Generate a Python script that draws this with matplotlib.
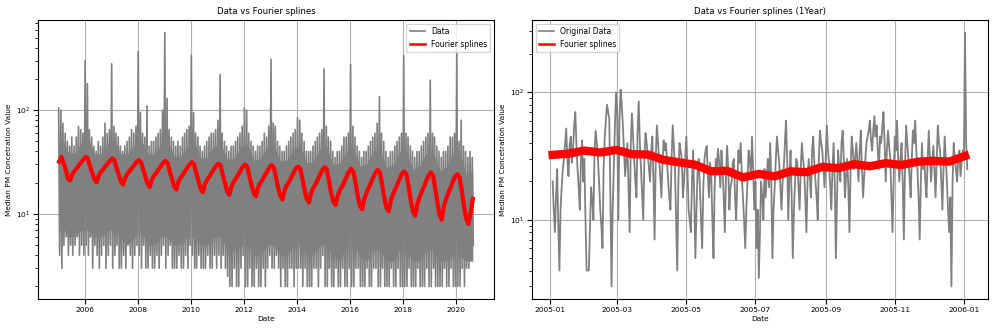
import numpy as np
import pandas as pd
import matplotlib
matplotlib.use('Agg')
import matplotlib.pyplot as plt

# ---- full record, read per month (high / low of the daily series) ----
monthly_high = [
    105, 100, 75, 60, 50, 45, 55, 45, 55, 70, 65, 60,
    300, 180, 65, 55, 45, 40, 50, 45, 55, 75, 60, 65,
    280, 70, 60, 55, 45, 40, 45, 50, 55, 65, 60, 70,
    370, 95, 60, 55, 110, 45, 50, 50, 55, 60, 65, 100,
    560, 130, 65, 55, 50, 45, 50, 45, 55, 60, 65, 70,
    340, 95, 60, 55, 45, 40, 45, 50, 55, 60, 60, 65,
    80, 220, 60, 50, 45, 40, 45, 45, 50, 55, 60, 70,
    105, 100, 60, 50, 45, 40, 45, 45, 50, 60, 55, 70,
    310, 75, 70, 50, 45, 40, 40, 45, 50, 55, 60, 65,
    85, 80, 60, 50, 40, 40, 40, 45, 50, 55, 60, 65,
    250, 70, 55, 50, 40, 35, 40, 40, 45, 55, 55, 60,
    275, 70, 55, 45, 40, 35, 40, 40, 45, 50, 55, 60,
    75, 135, 60, 50, 40, 35, 40, 40, 45, 50, 55, 60,
    335, 60, 55, 45, 40, 35, 40, 40, 45, 50, 55, 60,
    195, 60, 55, 45, 40, 35, 40, 40, 45, 55, 55, 60,
    380, 50, 80, 45, 40, 35, 40, 35,
]
monthly_low = [
    4, 3, 5, 6, 4, 5, 4, 5, 6, 4, 5, 4,
    5, 4, 6, 3, 5, 4, 3, 4, 5, 3, 4, 5,
    3, 4, 5, 3, 3, 4, 3, 5, 4, 3, 4, 5,
    4, 3, 5, 3, 3, 4, 3, 3, 4, 3, 4, 5,
    3, 4, 5, 3, 3, 3, 4, 3, 3, 4, 3, 5,
    4, 3, 3, 4, 3, 3, 3, 4, 3, 3, 4, 3,
    4, 3, 4, 3, 2.5, 2, 2, 3, 2, 2, 3, 4,
    2, 2, 3, 2, 2, 3, 2, 2, 3, 2, 3, 4,
    3, 3, 4, 3, 2, 3, 2, 2, 3, 3, 2, 3,
    3, 3, 2, 3, 2, 2, 2, 3, 3, 2, 3, 4,
    2, 2, 3, 2, 2, 3, 2, 2, 3, 2, 2, 3,
    2, 2, 3, 3, 2, 2, 2, 3, 2, 2, 3, 3,
    2, 2, 3, 2, 2, 2, 3, 2, 2, 3, 2, 2,
    2, 2, 3, 2, 2, 2, 3, 2, 2, 2, 3, 2,
    2, 3, 2, 2, 2, 2, 3, 2, 2, 3, 2, 2,
    2, 2, 3, 2, 3, 3, 4, 5,
]
# dense core of the gray band, per quarter
quarter_core_high = [
    55, 40, 38, 48,  55, 38, 38, 48,  52, 38, 38, 46,  52, 38, 38, 46,
    52, 36, 36, 45,  50, 35, 35, 45,  48, 34, 34, 44,  48, 33, 34, 44,
    46, 32, 33, 42,  45, 31, 32, 42,  44, 30, 31, 40,  43, 29, 30, 40,
    42, 28, 30, 40,  41, 27, 29, 39,  40, 26, 28, 38,  38, 24, 26,
]
quarter_core_low = [
    8, 6, 6, 7,  7, 6, 6, 7,  7, 6, 5, 6,  7, 5, 5, 6,
    6, 5, 5, 6,  6, 5, 5, 6,  6, 4.5, 4.5, 5,  5, 4, 4, 5,
    5, 4, 4, 5,  5, 4, 4, 5,  5, 4, 3.5, 5,  5, 4, 3.5, 4.5,
    4.5, 3.5, 3.5, 4.5,  4.5, 3.5, 3.5, 4.5,  4.5, 3.5, 3.5, 4,  4, 3.5, 3.5,
]
monthly_fit = [
    32, 35.5, 31, 27, 22, 21, 24, 26, 27.5, 29.5, 31.5, 33.5,
    35.6, 34, 29, 25, 21.5, 20.2, 23.5, 25.5, 27, 29, 30.5, 32.5,
    34.3, 33, 28, 24, 20.5, 19.2, 22.5, 24.5, 26, 28, 29.5, 31.5,
    33, 31.5, 27, 23, 19.5, 18.2, 21.5, 23.5, 25, 27, 29, 31,
    32.4, 31, 26, 22, 18.5, 17.2, 20.5, 22.5, 24, 26, 28, 30,
    31.6, 30, 25, 21, 17.5, 16.2, 19.5, 21.5, 23, 25, 27, 29,
    30.5, 29.5, 24, 20, 16.5, 15.3, 18.5, 20.5, 22, 24, 26, 28.5,
    30, 28.5, 23.5, 19, 16, 14.8, 18, 20, 21.5, 23.5, 25.5, 28,
    29.6, 28, 23, 18, 15, 13.8, 17, 19, 20.5, 22.5, 25, 27.5,
    28.7, 27, 22, 17, 14, 12.9, 16, 18, 19.5, 21.5, 24, 26.5,
    28.3, 26.5, 21, 16, 13.2, 12.2, 15, 17, 18.5, 20.5, 23, 25.5,
    27.2, 25.5, 20, 15, 12, 11.1, 14, 16, 18, 20, 22.5, 25,
    26.5, 25, 19.5, 14.5, 11.5, 10.6, 13.5, 15.5, 17.5, 19.5, 22, 24.5,
    25.7, 24, 18.5, 13.5, 10.5, 9.6, 12.5, 14.5, 16.5, 18.5, 21, 23.5,
    25.2, 23.5, 18, 13, 9.8, 8.8, 12, 14, 16, 18, 20.5, 23,
    24.2, 22.5, 17, 12, 9, 8, 10, 14,
]

# ---- first year, daily from 2005-01-03 ----
year_data = [
    20, 12, 8, 15, 25, 9, 4, 12, 18, 25, 30, 40, 52, 30, 22, 38, 45, 28, 35, 55, 70, 40, 25, 18, 12, 30, 42, 20, 30, 10,
    4, 4, 4, 9, 18, 14, 10, 35, 50, 40, 30, 20, 12, 9, 6, 25, 45, 60, 80, 70, 62, 15, 3, 12, 25, 55, 100, 70,
    10, 60, 105, 80, 55, 35, 22, 30, 40, 18, 8, 40, 68, 45, 30, 20, 15, 50, 85, 40, 25, 15, 10, 30, 48, 40, 32, 25, 20, 35,
    45, 20, 7, 30, 55, 40, 30, 22, 15, 28, 42, 35, 40, 28, 20, 15, 12, 30, 55, 38, 25, 10, 4, 20, 40, 35, 30, 15, 20, 30,
    45, 25, 12, 10, 8, 20, 35, 15, 5, 12, 25, 30, 18, 10, 6, 18, 30, 35, 38, 22, 15, 28, 22, 10, 5, 18, 30, 25, 36, 28, 18, 35,
    25, 15, 8, 22, 38, 25, 12, 18, 20, 28, 30, 15, 10, 20, 35, 28, 40, 22, 15, 10, 6, 12, 20, 35, 30, 22, 45, 25, 12, 20,
    6, 12, 3.5, 8, 20, 15, 10, 25, 15, 22, 30, 18, 40, 20, 5, 12, 18, 30, 45, 35, 28, 18, 12, 20, 25, 40, 60, 30, 10, 22,
    35, 15, 5, 12, 20, 30, 28, 18, 12, 25, 40, 30, 25, 15, 8, 20, 30, 22, 15, 35, 45, 28, 20, 15, 10, 30, 50, 40, 35, 25, 18, 30,
    55, 35, 28, 18, 12, 25, 40, 20, 5, 15, 35, 25, 20, 40, 50, 30, 15, 22, 30, 18, 8, 25, 45, 35, 25, 30, 40, 28, 20, 35,
    50, 25, 15, 22, 30, 40, 45, 50, 60, 42, 35, 50, 65, 45, 55, 35, 25, 45, 40, 55, 70, 40, 20, 35, 50, 38, 30, 15, 8, 20,
    45, 35, 60, 30, 20, 30, 40, 20, 7, 25, 55, 40, 30, 22, 15, 30, 50, 40, 60, 35, 25, 15, 7, 20, 40, 25, 30, 20, 15, 30,
    50, 30, 20, 28, 38, 25, 15, 30, 55, 40, 35, 20, 12, 25, 45, 30, 20, 12, 8, 15, 3, 20, 40, 30, 25, 20, 30, 35, 22, 28, 35, 30,
    294, 40, 25,
]
year_fit = [32.3, 33, 34.9, 33.7, 35.3, 32.7, 32.5, 29.5, 28.2, 27, 24, 24.2,
            21.5, 22.9, 21.9, 24, 23.6, 26, 25.4, 27.3, 26.3, 27.8, 26.9,
            28.5, 29, 28.6, 31.7]


def main():
    months = pd.date_range('2005-01-01', periods=len(monthly_high), freq='MS')
    t_full = np.empty(2 * len(months), dtype='datetime64[ns]')
    v_full = np.empty(2 * len(months))
    t_full[0::2] = (months + pd.Timedelta(days=7)).values
    t_full[1::2] = (months + pd.Timedelta(days=21)).values
    v_full[0::2] = monthly_high
    v_full[1::2] = monthly_low
    t_fit = months + pd.Timedelta(days=14)
    quarters = pd.date_range('2005-01-01', periods=len(quarter_core_high), freq='QS') + pd.Timedelta(days=45)

    t_year = pd.date_range('2005-01-03', periods=len(year_data), freq='D')
    t_yfit = pd.date_range('2005-01-03', periods=len(year_fit), freq='14D')

    plt.rcParams['font.size'] = 5.5
    fig, (ax1, ax2) = plt.subplots(1, 2, figsize=(9.97, 3.32), dpi=100)
    fig.subplots_adjust(left=0.038, right=0.991, bottom=0.099, top=0.94, wspace=0.083)

    ax1.fill_between(quarters, quarter_core_low, quarter_core_high, color='gray', lw=0)
    ax1.plot(t_full, v_full, color='gray', lw=1.2, label='Data')
    ax1.plot(t_fit, monthly_fit, color='red', lw=3, label='Fourier splines')
    ax1.set_title('Data vs Fourier splines', fontsize=6.2, pad=4)

    ax2.plot(t_year, year_data, color='gray', lw=1.3, label='Original Data')
    ax2.plot(t_yfit, year_fit, color='red', lw=6, label='Fourier splines')
    ax2.set_title('Data vs Fourier splines (1Year)', fontsize=6.2, pad=4)

    for ax, loc in ((ax1, 'upper right'), (ax2, 'upper left')):
        ax.set_yscale('log')
        ax.set_xlabel('Date', fontsize=5.3, labelpad=2)
        ax.set_ylabel('Median PM Concetration Value', fontsize=5.3, labelpad=3)
        ax.grid(True)
        ax.tick_params(labelsize=5.4, pad=2)
        leg = ax.legend(loc=loc, fontsize=5.5)
        leg.get_lines()[0].set_linewidth(1.2)
        leg.get_lines()[1].set_linewidth(1.8)

    fig.savefig('out.png')


if __name__ == '__main__':
    main()
